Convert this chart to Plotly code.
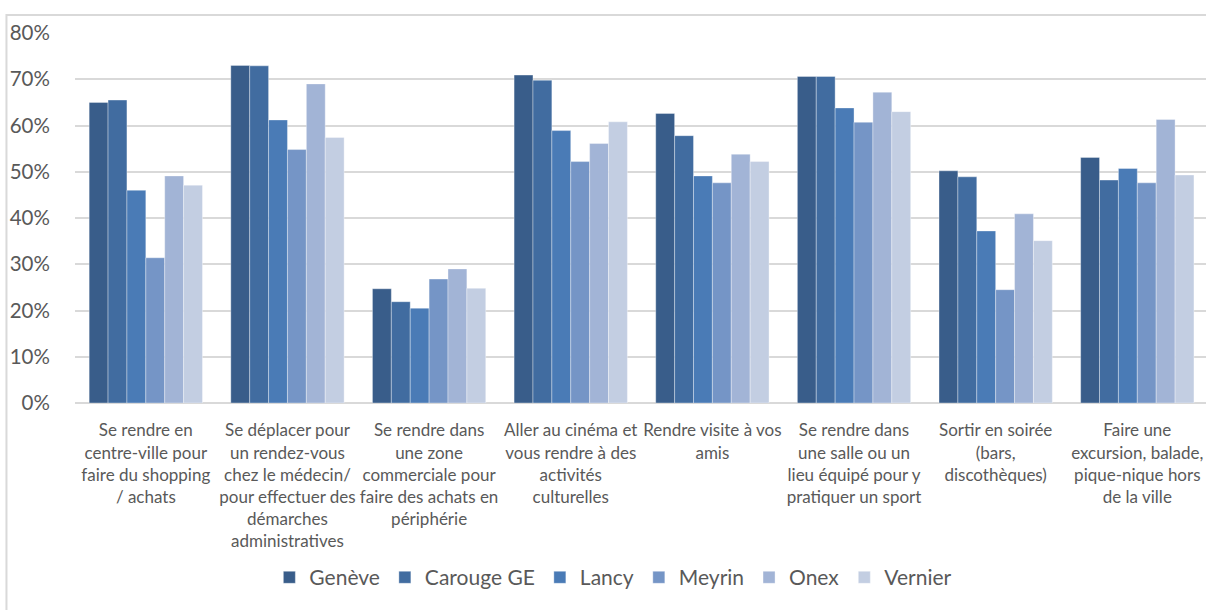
import plotly.graph_objects as go

# Activity categories (x axis), wrapped the way they are printed under the bars
categories = [
    "Se rendre en<br>centre-ville pour<br>faire du shopping<br>/ achats",
    "Se déplacer pour<br>un rendez-vous<br>chez le médecin/<br>pour effectuer des<br>démarches<br>administratives",
    "Se rendre dans<br>une zone<br>commerciale pour<br>faire des achats en<br>périphérie",
    "Aller au cinéma et<br>vous rendre à des<br>activités<br>culturelles",
    "Rendre visite à vos<br>amis",
    "Se rendre dans<br>une salle ou un<br>lieu équipé pour y<br>pratiquer un sport",
    "Sortir en soirée<br>(bars,<br>discothèques)",
    "Faire une<br>excursion, balade,<br>pique-nique hors<br>de la ville",
]

# Share of respondents (%) per commune
geneve = [65.0, 73.0, 24.7, 70.9, 62.6, 70.6, 50.2, 53.1]
carouge = [65.5, 72.9, 21.9, 69.8, 57.8, 70.6, 48.9, 48.2]
lancy = [46.0, 61.2, 20.5, 58.9, 49.1, 63.8, 37.2, 50.7]
meyrin = [31.4, 54.8, 26.8, 52.2, 47.6, 60.7, 24.5, 47.6]
onex = [49.1, 69.0, 29.0, 56.1, 53.8, 67.2, 40.9, 61.3]
vernier = [47.1, 57.4, 24.8, 60.8, 52.2, 63.0, 35.1, 49.3]

series_names = ["Genève", "Carouge GE", "Lancy", "Meyrin", "Onex", "Vernier"]
series_values = [geneve, carouge, lancy, meyrin, onex, vernier]
series_colors = ["#395D8A", "#416CA0", "#4A7BB6", "#7595C6", "#A2B4D6", "#C3CEE2"]

y_ticks = [0, 10, 20, 30, 40, 50, 60, 70, 80]
y_tick_text = [f"{v}%" for v in y_ticks]

TEXT = "#595959"
GRID = "#D9D9D9"
FONT = "Lato, 'Open Sans', sans-serif"

fig = go.Figure()
for name, vals, col in zip(series_names, series_values, series_colors):
    fig.add_trace(go.Bar(
        name=name,
        x=categories,
        y=vals,
        marker=dict(color=col, line=dict(color="rgba(255,255,255,0.35)", width=1)),
    ))

fig.update_layout(
    width=1206,
    height=610,
    barmode="group",
    bargap=0.2,
    bargroupgap=0,
    paper_bgcolor="white",
    plot_bgcolor="white",
    margin=dict(l=75, r=0, t=33, b=207),
    font=dict(family=FONT, color=TEXT),
    showlegend=True,
    legend=dict(
        orientation="h",
        x=0.476,
        xanchor="center",
        y=-0.472,
        yanchor="middle",
        font=dict(size=21, color=TEXT, family=FONT),
        itemclick=False,
        traceorder="normal",
    ),
    xaxis=dict(
        type="category",
        range=[-0.5, 7.485],
        showgrid=False,
        showline=False,
        ticks="outside",
        ticklen=12,
        tickcolor="rgba(0,0,0,0)",
        tickangle=0,
        tickfont=dict(size=17, color=TEXT, family=FONT),
    ),
    yaxis=dict(
        range=[0, 80],
        tickvals=y_ticks,
        ticktext=y_tick_text,
        showgrid=True,
        gridcolor=GRID,
        gridwidth=2,
        zeroline=True,
        zerolinecolor=GRID,
        zerolinewidth=2,
        showline=False,
        ticks="outside",
        ticklen=20,
        tickcolor="rgba(0,0,0,0)",
        tickfont=dict(size=20.5, color=TEXT, family=FONT),
    ),
    shapes=[
        # outer chart frame (left and top edges visible)
        dict(type="rect", xref="paper", yref="paper",
             x0=-0.0606, x1=1.2, y0=-1.0, y1=1.0486,
             line=dict(color=GRID, width=2), fillcolor="rgba(0,0,0,0)",
             layer="below"),
    ],
)

fig.write_html("out.html")
